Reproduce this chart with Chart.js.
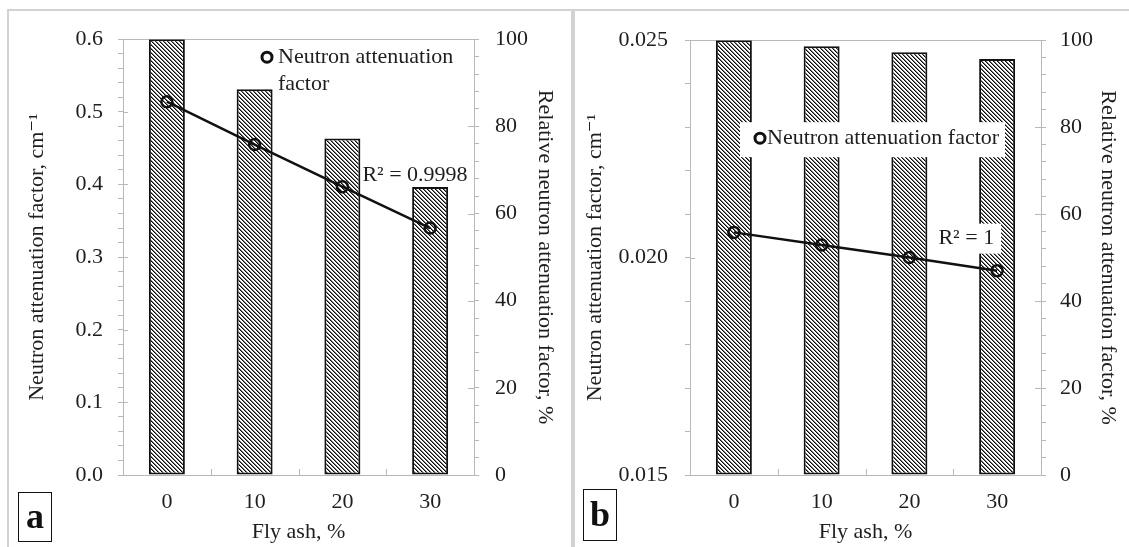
<!DOCTYPE html>
<html>
<head>
<meta charset="utf-8">
<script src="https://cdn.jsdelivr.net/npm/chart.js@4.4.1/dist/chart.umd.min.js"></script>
<style>
html,body{margin:0;padding:0;background:#fff;}
body{width:1129px;height:547px;position:relative;overflow:hidden;font-family:'Liberation Serif',serif;}
.panel{position:absolute;box-sizing:border-box;}
#pa{left:7px;top:9px;width:566px;height:545px;border-top:2px solid #d2d2d2;border-left:2px solid #d2d2d2;border-right:2px solid #d2d2d2;}
#pb{left:573px;top:9px;width:566px;height:545px;border-top:2px solid #d2d2d2;border-left:2px solid #d2d2d2;}
canvas{position:absolute;}
#ca{left:8px;top:10px;}
#cb{left:574px;top:10px;}
.tag{position:absolute;box-sizing:border-box;border:1.5px solid #111;font-weight:bold;font-size:36px;font-family:'Liberation Serif',serif;text-align:center;color:#111;}
#ta{left:18px;top:492px;width:34px;height:50px;line-height:47px;}
#tb{left:583px;top:489px;width:34px;height:52px;line-height:49px;}
</style>
</head>
<body>
<div class="panel" id="pa"></div>
<div class="panel" id="pb"></div>
<canvas id="ca" width="563" height="537" style="width:563px;height:537px"></canvas>
<canvas id="cb" width="555" height="537" style="width:555px;height:537px"></canvas>
<div class="tag" id="ta">a</div>
<div class="tag" id="tb">b</div>
<script>
// ---- data ----
const categories = ['0', '10', '20', '30'];
const attenuationA = [0.514, 0.455, 0.397, 0.340];
const relativeA = [100, 88.5, 77.2, 66.1];
const attenuationB = [0.02058, 0.02029, 0.02000, 0.01970];
const relativeB = [100, 98.6, 97.2, 95.7];
const lineLabel = 'Neutron attenuation factor';
const barLabel = 'Relative neutron attenuation factor';
const r2TextA = 'R² = 0.9998';
const r2TextB = 'R² = 1';
const xTitle = 'Fly ash, %';
const yTitle = 'Neutron attenuation factor, cm⁻¹';
const y1Title = 'Relative neutron attenuation factor, %';

// ---- styles ----
const FAM = "'Liberation Serif','DejaVu Serif','Times New Roman',serif";
const AX = '#b8b8b8';
const TXT = '#1e1e1e';
const F = {family: FAM, size: 22, lineHeight: 1.2};

function hatchPattern(ctx) {
  const n = 4;
  const c = document.createElement('canvas');
  c.width = n; c.height = n;
  const g = c.getContext('2d');
  const img = g.createImageData(n, n);
  for (let yy = 0; yy < n; yy++) {
    for (let xx = 0; xx < n; xx++) {
      const d = ((xx - yy) % n + n) % n;
      const v = d === 0 ? 10 : (d === 1 ? 120 : 255);
      const i = (yy * n + xx) * 4;
      img.data[i] = v; img.data[i + 1] = v; img.data[i + 2] = v; img.data[i + 3] = 255;
    }
  }
  g.putImageData(img, 0, 0);
  return ctx.createPattern(c, 'repeat');
}

const framePlugin = {
  id: 'frame',
  beforeDatasetsDraw(chart, args, o) {
    const {ctx, chartArea: ca, scales} = chart;
    ctx.save();
    ctx.strokeStyle = AX;
    ctx.lineWidth = 1;
    const ty = Math.round(ca.top) + 0.5;
    ctx.beginPath(); ctx.moveTo(ca.left, ty); ctx.lineTo(ca.right, ty); ctx.stroke();
    scales.y.ticks.forEach(t => {
      if (!o.majorY(t.value)) return;
      const y = Math.round(scales.y.getPixelForValue(t.value)) + 0.5;
      ctx.beginPath(); ctx.moveTo(ca.left, y); ctx.lineTo(ca.left + 5, y); ctx.stroke();
    });
    scales.y1.ticks.forEach(t => {
      if (!o.majorY1(t.value)) return;
      const y = Math.round(scales.y1.getPixelForValue(t.value)) + 0.5;
      ctx.beginPath(); ctx.moveTo(ca.right - 6, y); ctx.lineTo(ca.right, y); ctx.stroke();
    });
    const xs = scales.x;
    for (let i = 1; i < categories.length; i++) {
      const x = Math.round((xs.getPixelForValue(i - 1) + xs.getPixelForValue(i)) / 2) + 0.5;
      ctx.beginPath(); ctx.moveTo(x, ca.bottom); ctx.lineTo(x, ca.bottom - 6); ctx.stroke();
    }
    ctx.restore();
  }
};

const annotPlugin = {
  id: 'annot',
  afterDatasetsDraw(chart, args, o) {
    const {ctx, chartArea: ca} = chart;
    ctx.save();
    ctx.font = '22px ' + FAM;
    ctx.textBaseline = 'middle';
    ctx.fillStyle = TXT;
    const L = o.legend;
    if (L.box) {
      ctx.fillStyle = '#fff';
      ctx.fillRect(ca.left + L.box[0], ca.top + L.box[1], L.box[2], L.box[3]);
      ctx.fillStyle = TXT;
    }
    ctx.strokeStyle = '#111';
    ctx.lineWidth = 3;
    ctx.beginPath();
    ctx.arc(ca.left + L.mx, ca.top + L.my, 5, 0, Math.PI * 2);
    ctx.stroke();
    ctx.textAlign = 'left';
    L.lines.forEach((s, i) => ctx.fillText(s, ca.left + L.tx, ca.top + L.my + i * 27));
    const R = o.r2;
    const pt = chart.getDatasetMeta(1).data[R.idx];
    const w = ctx.measureText(R.text).width;
    let x0 = R.align === 'right' ? pt.x + R.dx - w : pt.x + R.dx;
    const yc = pt.y + R.dy;
    if (R.box) {
      ctx.fillStyle = '#fff';
      ctx.fillRect(x0 - 5, yc - 15, w + 12, 30);
      ctx.fillStyle = TXT;
    }
    ctx.fillText(R.text, x0, yc);
    ctx.restore();
  }
};

function build(id, d) {
  const el = document.getElementById(id);
  const ctx = el.getContext('2d');
  return new Chart(ctx, {
    data: {
      labels: categories,
      datasets: [
        {
          type: 'bar', label: barLabel, data: d.rel, yAxisID: 'y1', order: 2,
          backgroundColor: hatchPattern(ctx), borderColor: '#111', borderWidth: 2,
          borderSkipped: false, barPercentage: 0.41, categoryPercentage: 1
        },
        {
          type: 'line', label: lineLabel, data: d.att, yAxisID: 'y', order: 1,
          borderColor: '#111', borderWidth: 2.5, tension: 0,
          pointRadius: 5.5, pointBorderWidth: 2.5, pointBorderColor: '#111',
          pointBackgroundColor: 'rgba(0,0,0,0)'
        }
      ]
    },
    options: {
      responsive: false, animation: false, devicePixelRatio: 1, events: [],
      layout: {padding: {top: 25, left: 0, right: 0, bottom: 0}},
      plugins: {
        legend: {display: false}, tooltip: {enabled: false}, title: {display: false},
        frame: {majorY: d.majorY, majorY1: v => Math.abs(v % 20) < 1e-9},
        annot: {legend: d.legend, r2: d.r2}
      },
      scales: {
        x: {
          type: 'category', offset: true,
          grid: {display: false, drawTicks: false},
          border: {display: true, color: AX, width: 1},
          ticks: {color: TXT, font: F, padding: 14, autoSkip: false, maxRotation: 0},
          title: {display: true, text: xTitle, color: TXT, font: F, padding: {top: 0, bottom: 2}},
          afterFit(s) { s.height = 72; }
        },
        y: {
          type: 'linear', position: 'left', min: d.yMin, max: d.yMax,
          grid: {display: true, drawOnChartArea: false, drawTicks: true, tickLength: 5, color: AX, tickColor: AX},
          border: {display: true, color: AX, width: 1},
          ticks: {stepSize: d.yStep, autoSkip: false, color: TXT, font: F, padding: d.yLabPad,
                  callback: v => d.majorY(v) ? d.fmtY(v) : ''},
          title: {display: true, text: yTitle, color: TXT, font: F, padding: {top: d.yTitlePad, bottom: 0}},
          afterFit(s) { s.width = d.yWidth; }
        },
        y1: {
          type: 'linear', position: 'right', min: 0, max: 100,
          grid: {display: true, drawOnChartArea: false, drawTicks: true, tickLength: 5, color: AX, tickColor: AX},
          border: {display: true, color: AX, width: 1},
          ticks: {stepSize: 4, autoSkip: false, color: TXT, font: F, padding: d.y1LabPad,
                  callback: v => (Math.abs(v % 20) < 1e-9 ? String(v) : '')},
          title: {display: true, text: y1Title, color: TXT, font: F, padding: {top: d.y1TitlePad, bottom: 0}},
          afterFit(s) { s.width = d.y1Width; }
        }
      }
    },
    plugins: [framePlugin, annotPlugin]
  });
}

build('ca', {
  att: attenuationA, rel: relativeA,
  yMin: 0, yMax: 0.6, yStep: 0.02,
  majorY: v => Math.abs(v * 10 - Math.round(v * 10)) < 1e-6,
  fmtY: v => v.toFixed(1),
  yLabPad: 15, y1LabPad: 16, yTitlePad: 16, y1TitlePad: 13,
  yWidth: 115, y1Width: 97,
  legend: {box: null, mx: 144, my: 18, tx: 155, lines: ['Neutron attenuation', 'factor']},
  r2: {text: r2TextA, idx: 2, dx: 20, dy: -11, align: 'left', box: false}
});

build('cb', {
  att: attenuationB, rel: relativeB,
  yMin: 0.015, yMax: 0.025, yStep: 0.001,
  majorY: v => Math.abs(v * 200 - Math.round(v * 200)) < 1e-6,
  fmtY: v => v.toFixed(3),
  yLabPad: 17, y1LabPad: 14, yTitlePad: 8, y1TitlePad: 8,
  yWidth: 116, y1Width: 88,
  legend: {box: [50, 82, 265, 35], mx: 70, my: 98, tx: 77, lines: [lineLabel]},
  r2: {text: r2TextB, idx: 3, dx: -3, dy: -32, align: 'right', box: true}
});
</script>
</body>
</html>
